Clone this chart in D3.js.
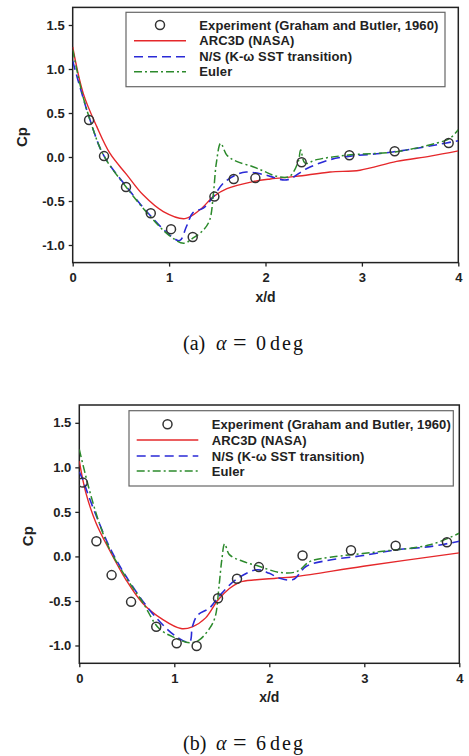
<!DOCTYPE html>
<html lang="en">
<head>
    <meta charset="UTF-8">
    <title>Cp distribution, x/d</title>
    <script src="https://d3js.org/d3.v7.min.js"></script>
    <style>
        body { margin: 0; background: #fff; }
        svg { display: block; }
        .axis path, .axis line { fill: none; stroke: #222; stroke-width: 1.3px; }
        .axis text { font-family: "Liberation Sans", Arial, sans-serif; font-size: 13px; font-weight: bold; fill: #222; }
        .lbl { font-family: "Liberation Sans", Arial, sans-serif; font-weight: bold; fill: #222; }
        .cap { font-family: "Liberation Serif", "Times New Roman", serif; font-size: 20px; fill: #111; }
    </style>
</head>
<body>
<svg width="469" height="756"></svg>
<script>
// ---- data: [x/d, Cp] ----
// (a) alpha = 0 deg
var expA = [[0.17,0.42],[0.325,0.01],[0.553,-0.34],[0.81,-0.64],[1.02,-0.82],[1.245,-0.91],
    [1.47,-0.45],[1.67,-0.25],[1.895,-0.24],[2.375,-0.06],[2.87,0.02],[3.34,0.065],[3.90,0.16]];
var arcA = [[0,1.25],[0.11,0.72],[0.25,0.345],[0.387,0.04],[0.56,-0.2],[0.73,-0.43],[0.94,-0.62],
    [1.165,-0.70],[1.32,-0.60],[1.46,-0.45],[1.6,-0.36],[1.87,-0.28],[2.05,-0.25],[2.32,-0.22],
    [2.67,-0.17],[2.98,-0.15],[3.36,-0.05],[3.71,0.01],[4.0,0.07]];
var nsA = [[0,1.09],[0.09,0.74],[0.18,0.42],[0.32,0.02],[0.56,-0.34],[0.80,-0.66],[1.01,-0.89],
    [1.11,-0.95],[1.18,-0.79],[1.25,-0.63],[1.355,-0.58],[1.46,-0.45],[1.56,-0.30],[1.70,-0.20],
    [1.80,-0.17],[1.98,-0.20],[2.05,-0.22],[2.22,-0.26],[2.43,-0.13],[2.67,-0.03],[2.88,0.01],
    [3.19,0.04],[3.46,0.08],[3.78,0.14],[4.0,0.185]];
var eulerA = [[0,1.22],[0.09,0.76],[0.18,0.42],[0.32,0.02],[0.56,-0.35],[0.80,-0.67],[1.0,-0.89],
    [1.15,-0.98],[1.25,-0.92],[1.355,-0.83],[1.42,-0.72],[1.46,-0.41],[1.49,-0.07],[1.535,0.155],
    [1.6,0.02],[1.70,-0.05],[1.87,-0.11],[1.98,-0.16],[2.12,-0.22],[2.25,-0.22],[2.34,-0.05],
    [2.365,0.08],[2.41,-0.07],[2.53,-0.03],[2.84,0.02],[3.36,0.06],[3.78,0.16],[3.91,0.21],[4.0,0.31]];

// (b) alpha = 6 deg
var expB = [[0.036,0.83],[0.18,0.17],[0.34,-0.21],[0.545,-0.51],[0.81,-0.79],[1.025,-0.975],
    [1.235,-1.005],[1.46,-0.47],[1.66,-0.25],[1.89,-0.12],[2.35,0.01],[2.86,0.07],[3.33,0.12],[3.87,0.16]];
var arcB = [[0,1.07],[0.07,0.71],[0.176,0.376],[0.316,0.075],[0.49,-0.26],[0.667,-0.525],[0.88,-0.71],
    [1.07,-0.81],[1.19,-0.79],[1.33,-0.69],[1.46,-0.49],[1.58,-0.36],[1.67,-0.30],[1.72,-0.28],
    [2.07,-0.245],[2.29,-0.225],[2.99,-0.11],[4.0,0.04]];
var nsB = [[0,0.95],[0.036,0.86],[0.14,0.56],[0.2,0.40],[0.316,0.11],[0.49,-0.22],[0.77,-0.64],
    [1.02,-0.90],[1.16,-0.96],[1.19,-0.79],[1.245,-0.66],[1.37,-0.58],[1.47,-0.45],[1.65,-0.26],
    [1.87,-0.15],[2.0,-0.19],[2.11,-0.245],[2.25,-0.26],[2.39,-0.11],[2.64,-0.04],[2.99,0.01],
    [3.34,0.075],[3.69,0.11],[4.0,0.17]];
var eulerB = [[0,1.2],[0.105,0.75],[0.21,0.375],[0.32,0.08],[0.5,-0.25],[0.67,-0.52],[0.84,-0.81],
    [1.02,-0.92],[1.16,-0.97],[1.26,-0.94],[1.37,-0.81],[1.43,-0.68],[1.47,-0.34],[1.50,-0.04],
    [1.53,0.14],[1.58,0.02],[1.72,-0.055],[1.89,-0.11],[2.11,-0.18],[2.29,-0.17],[2.43,-0.055],
    [2.64,-0.01],[3.17,0.055],[3.69,0.13],[4.0,0.26]];

var xTicks = [0, 1, 2, 3, 4];
var yTicks = [-1.0, -0.5, 0.0, 0.5, 1.0, 1.5];
var legendLabels = ["Experiment (Graham and Butler, 1960)", "ARC3D (NASA)", "N/S (K-\u03c9 SST transition)", "Euler"];

var svg = d3.select("svg");

var series = [
    {key: "arc", color: "#e5282b", dash: null, width: 1.4},
    {key: "ns", color: "#2a2ad6", dash: "9,5", width: 1.6},
    {key: "euler", color: "#2c8a2c", dash: "8,3,2,3", width: 1.5}
];

function drawPanel(p) {
    var x = d3.scaleLinear().domain([0, 4]).range([p.left, p.right]);
    var y = d3.scaleLinear().domain([-1.2, 1.7]).range([p.bottom, p.top]);
    var g = svg.append("g");

    var clipId = "clip" + p.id;
    svg.append("clipPath").attr("id", clipId).append("rect")
        .attr("x", p.left).attr("y", p.top)
        .attr("width", p.right - p.left).attr("height", p.bottom - p.top);

    g.append("g").attr("class", "axis")
        .attr("transform", "translate(0," + p.bottom + ")")
        .call(d3.axisBottom(x).tickValues(xTicks).tickSize(4).tickPadding(6).tickFormat(d3.format("d")))
        .call(function(s) { s.select(".domain").remove(); });
    g.append("g").attr("class", "axis")
        .attr("transform", "translate(" + p.left + ",0)")
        .call(d3.axisLeft(y).tickValues(yTicks).tickSize(4).tickPadding(4)
            .tickFormat(function(d) { return d.toFixed(1); }))
        .call(function(s) { s.select(".domain").remove(); });

    // frame
    g.append("rect")
        .attr("x", p.left).attr("y", p.top)
        .attr("width", p.right - p.left).attr("height", p.bottom - p.top)
        .attr("fill", "none").attr("stroke", "#222").attr("stroke-width", 1.5);

    var line = d3.line()
        .x(function(d) { return x(d[0]); })
        .y(function(d) { return y(d[1]); })
        .curve(d3.curveCatmullRom.alpha(0.5));

    var plot = g.append("g").attr("clip-path", "url(#" + clipId + ")");
    series.forEach(function(s) {
        plot.append("path")
            .datum(p[s.key])
            .attr("d", line)
            .attr("fill", "none")
            .attr("stroke", s.color)
            .attr("stroke-width", s.width)
            .attr("stroke-dasharray", s.dash);
    });

    plot.selectAll("circle.exp")
        .data(p.exp)
        .enter().append("circle")
        .attr("class", "exp")
        .attr("cx", function(d) { return x(d[0]); })
        .attr("cy", function(d) { return y(d[1]); })
        .attr("r", 4.5)
        .attr("fill", "none")
        .attr("stroke", "#333")
        .attr("stroke-width", 1.5);

    // legend
    var L = p.legend;
    var lg = g.append("g");
    lg.append("rect")
        .attr("x", L.x0).attr("y", L.y0)
        .attr("width", L.x1 - L.x0).attr("height", L.y1 - L.y0)
        .attr("fill", "#fff").attr("stroke", "#666").attr("stroke-width", 1.2);
    lg.append("circle")
        .attr("cx", (L.s0 + L.s1) / 2).attr("cy", L.rows[0]).attr("r", 4.5)
        .attr("fill", "none").attr("stroke", "#333").attr("stroke-width", 1.5);
    series.forEach(function(s, i) {
        lg.append("line")
            .attr("x1", L.s0).attr("x2", L.s1)
            .attr("y1", L.rows[i + 1]).attr("y2", L.rows[i + 1])
            .attr("stroke", s.color).attr("stroke-width", s.width)
            .attr("stroke-dasharray", s.dash);
    });
    lg.selectAll("text.leg")
        .data(legendLabels)
        .enter().append("text")
        .attr("class", "lbl")
        .attr("x", L.tx)
        .attr("y", function(d, i) { return L.rows[i] + 4.5; })
        .style("font-size", "13px")
        .style("letter-spacing", "0.1px")
        .text(function(d) { return d; });

    // axis titles
    g.append("text").attr("class", "lbl")
        .attr("transform", "translate(" + (p.left - 46) + "," + ((p.top + p.bottom) / 2 + 2) + ") rotate(-90)")
        .attr("text-anchor", "middle")
        .style("font-size", "15px")
        .text("Cp");
    g.append("text").attr("class", "lbl")
        .attr("x", x(2)).attr("y", p.bottom + 39)
        .attr("text-anchor", "middle")
        .style("font-size", "14px")
        .text("x/d");

    // caption, pieces spread like the typeset original
    var cap = g.append("text").attr("class", "cap").attr("y", p.capY);
    cap.append("tspan").attr("x", 183).text("(" + p.id + ")");
    cap.append("tspan").attr("x", 216).style("font-style", "italic").text("\u03b1");
    cap.append("tspan").attr("x", 233).style("font-size", "24px").text("=");
    cap.append("tspan").attr("x", 256).text(p.alpha);
    cap.append("tspan").attr("x", 270).style("letter-spacing", "2px").text("deg");
}

drawPanel({
    id: "a", alpha: 0, left: 72.7, right: 458.3, top: 7.4, bottom: 262.6, capY: 350,
    exp: expA, arc: arcA, ns: nsA, euler: eulerA,
    legend: {x0: 126, x1: 445, y0: 12.3, y1: 86.7, rows: [25, 40.7, 56.7, 71.7], s0: 134, s1: 186, tx: 199.3}
});
drawPanel({
    id: "b", alpha: 6, left: 79.3, right: 459.3, top: 405, bottom: 663.3, capY: 750,
    exp: expB, arc: arcB, ns: nsB, euler: eulerB,
    legend: {x0: 129, x1: 453.3, y0: 410.7, y1: 486, rows: [424.3, 440, 456, 471], s0: 136.7, s1: 198.3, tx: 211.7}
});
</script>
</body>
</html>
